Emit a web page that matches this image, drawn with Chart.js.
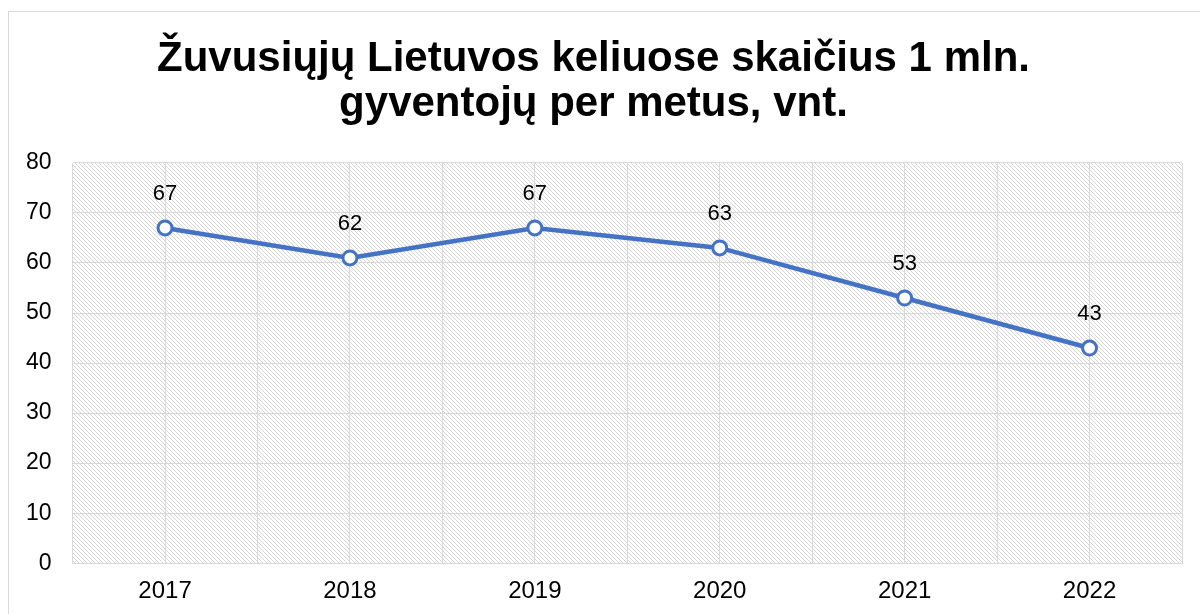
<!DOCTYPE html>
<html>
<head>
<meta charset="utf-8">
<script src="https://cdn.jsdelivr.net/npm/chart.js@4"></script>
<style>
html, body { margin: 0; padding: 0; background: #fff; }
#wrap { position: relative; width: 1200px; height: 614px; }
#frame { position: absolute; left: 8px; top: 11px; width: 1300px; height: 700px; border: 1px solid #d9d9d9; box-sizing: border-box; }
canvas { position: absolute; left: 0; top: 0; }
</style>
</head>
<body>
<div id="wrap">
	<div id="frame"></div>
	<canvas id="myChart" width="1200" height="614"></canvas>
</div>
<script>
const years = ['2017', '2018', '2019', '2020', '2021', '2022'];
const deaths = [67, 61, 67, 63, 53, 43];
const pointLabels = ['67', '62', '67', '63', '53', '43'];
const yTicks = [0, 10, 20, 30, 40, 50, 60, 70, 80];

const FONT = "'Liberation Sans', Arial, sans-serif";

// diagonal hatch for the plot area
function makeHatch() {
	const c = document.createElement('canvas');
	c.width = 4; c.height = 4;
	const g = c.getContext('2d');
	g.fillStyle = '#ffffff';
	g.fillRect(0, 0, 4, 4);
	g.strokeStyle = '#d6d6d6';
	g.lineWidth = 1;
	g.beginPath();
	g.moveTo(-1, -1); g.lineTo(5, 5);
	g.moveTo(-1, 3); g.lineTo(1, 5);
	g.moveTo(3, -1); g.lineTo(5, 1);
	g.stroke();
	return g.createPattern(c, 'repeat');
}

const hatchBg = {
	id: 'hatchBg',
	beforeDraw(chart) {
		const {ctx, chartArea: a} = chart;
		ctx.save();
		ctx.fillStyle = makeHatch();
		ctx.fillRect(a.left, a.top, a.right - a.left, a.bottom - a.top);
		ctx.restore();
	}
};

const valueLabels = {
	id: 'valueLabels',
	afterDatasetsDraw(chart) {
		const ctx = chart.ctx;
		const meta = chart.getDatasetMeta(0);
		ctx.save();
		ctx.font = '22px ' + FONT;
		ctx.fillStyle = '#000';
		ctx.textAlign = 'center';
		ctx.textBaseline = 'middle';
		meta.data.forEach((pt, i) => {
			ctx.fillText(pointLabels[i], pt.x, pt.y - 34);
		});
		ctx.restore();
	}
};

new Chart(document.getElementById('myChart'), {
	type: 'line',
	data: {
		labels: years,
		datasets: [{
			data: deaths,
			borderColor: '#4472c4',
			borderWidth: 4.5,
			pointRadius: 7,
			pointHoverRadius: 7,
			pointBackgroundColor: '#ffffff',
			pointBorderColor: '#4472c4',
			pointBorderWidth: 3,
			tension: 0
		}]
	},
	options: {
		responsive: false,
		animation: false,
		layout: {padding: {left: 5, right: 18, top: 37, bottom: -6}},
		plugins: {
			legend: {display: false},
			tooltip: {enabled: false},
			title: {
				display: true,
				text: ['Žuvusiųjų Lietuvos keliuose skaičius 1 mln.', 'gyventojų per metus, vnt.'],
				color: '#000',
				font: {family: FONT, size: 42, weight: 'bold', lineHeight: 1.07},
				padding: {top: 0, bottom: 36}
			}
		},
		scales: {
			x: {
				offset: true,
				grid: {offset: false, color: '#d9d9d9', drawTicks: false},
				border: {color: '#d9d9d9'},
				ticks: {color: '#000', font: {family: FONT, size: 24}, padding: 14}
			},
			x2: {
				type: 'category',
				labels: years,
				offset: true,
				display: true,
				grid: {offset: true, color: '#d9d9d9', drawTicks: false},
				border: {display: false},
				ticks: {display: false, padding: 0}
			},
			y: {
				min: 0,
				max: 80,
				afterBuildTicks(axis) { axis.ticks = yTicks.map(v => ({value: v})); },
				grid: {color: '#d9d9d9', drawTicks: false},
				border: {display: false},
				ticks: {color: '#000', font: {family: FONT, size: 23}, padding: 21}
			}
		}
	},
	plugins: [hatchBg, valueLabels]
});
</script>
</body>
</html>
